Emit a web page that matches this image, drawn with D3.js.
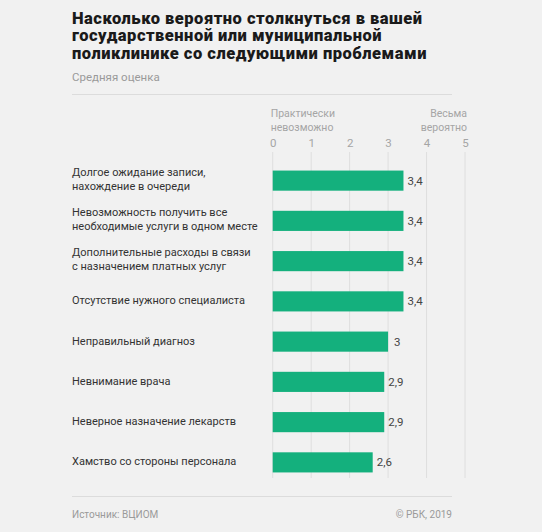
<!DOCTYPE html>
<html><head><meta charset="utf-8">
<script src="https://cdn.jsdelivr.net/npm/d3@7"></script>
<style>
html,body{margin:0;padding:0;background:#f1f1f1;}
svg{display:block;font-family:Roboto,"Noto Sans",sans-serif;}
</style></head>
<body><svg id="c" width="542" height="532"></svg>
<script>
const categories = [
  ["Долгое ожидание записи,", "нахождение в очереди"],
  ["Невозможность получить все", "необходимые услуги в одном месте"],
  ["Дополнительные расходы в связи", "с назначением платных услуг"],
  ["Отсутствие нужного специалиста"],
  ["Неправильный диагноз"],
  ["Невнимание врача"],
  ["Неверное назначение лекарств"],
  ["Хамство со стороны персонала"]
];
const values = [3.4, 3.4, 3.4, 3.4, 3.0, 2.9, 2.9, 2.6];
const valueLabels = ["3,4", "3,4", "3,4", "3,4", "3", "2,9", "2,9", "2,6"];
const ticks = [0, 1, 2, 3, 4, 5];
const titleLines = ["Насколько вероятно столкнуться в вашей", "государственной или муниципальной", "поликлинике со следующими проблемами"];
const subtitle = "Средняя оценка";
const lowLabel = ["Практически", "невозможно"];
const highLabel = ["Весьма", "вероятно"];
const source = "Источник: ВЦИОМ";
const credit = "© РБК, 2019";

const svg = d3.select("#c");
const left = 72, right = 452;

svg.append("g").selectAll("text").data(titleLines).join("text")
  .attr("x", left).attr("y", (d,i) => 23.5 + i*17.5)
  .attr("font-size", 16.5).attr("font-weight", 900).attr("fill", "#1a1a1a")
  .attr("letter-spacing", "0.5")
  .text(d => d);

svg.append("text").attr("x", left).attr("y", 80.5).attr("font-size", 11.5)
  .attr("fill", "#9a9a9a").text(subtitle);

svg.append("line").attr("x1", left).attr("x2", right).attr("y1", 94.5).attr("y2", 94.5)
  .attr("stroke", "#dcdcdc").attr("stroke-width", 1);

const x = d3.scaleLinear().domain([0, 5]).range([272.7, 465]);
const y = d3.scaleBand().domain(d3.range(values.length)).range([160.5, 482.5]).paddingInner(0.5).paddingOuter(0.25);

// gridlines
svg.append("g").selectAll("line").data(ticks).join("line")
  .attr("x1", d => x(d)).attr("x2", d => x(d)).attr("y1", 152).attr("y2", 478)
  .attr("stroke", "#dedede").attr("stroke-width", 1);

// axis
const axis = svg.append("g").attr("transform", "translate(0,147)")
  .call(d3.axisTop(x).tickValues(ticks).tickSize(0).tickPadding(0).tickFormat(d3.format("d")));
axis.select(".domain").remove();
axis.selectAll("text").attr("font-size", 11.5).attr("fill", "#a5a5a5")
  .attr("font-family", "Roboto, 'Noto Sans', sans-serif");

svg.append("g").selectAll("text").data(lowLabel).join("text")
  .attr("x", x(0) - 2).attr("y", (d,i) => 117 + i*14).attr("font-size", 10.5)
  .attr("fill", "#a5a5a5").text(d => d);
svg.append("g").selectAll("text").data(highLabel).join("text")
  .attr("x", x(5) + 2).attr("y", (d,i) => 117 + i*14).attr("font-size", 10.5)
  .attr("text-anchor", "end").attr("fill", "#a5a5a5").text(d => d);

// bars
svg.append("g").selectAll("rect").data(values).join("rect")
  .attr("x", x(0)).attr("y", (d,i) => y(i)).attr("width", d => x(d) - x(0))
  .attr("height", y.bandwidth()).attr("fill", "#14b07d");

svg.append("g").selectAll("text").data(values).join("text")
  .attr("x", d => x(d) + (d === 3 ? 6 : 4)).attr("y", (d,i) => y(i) + y.bandwidth()/2 + 4)
  .attr("font-size", 11.5).attr("fill", "#444").text((d,i) => valueLabels[i]);

// category labels
const lab = svg.append("g").selectAll("text").data(categories).join("text")
  .attr("font-size", 11).attr("fill", "#333");
lab.each(function(lines, i) {
  const cy = y(i) + y.bandwidth()/2;
  const n = lines.length;
  d3.select(this).selectAll("tspan").data(lines).join("tspan")
    .attr("x", left).attr("y", (d,j) => cy + 4 + (j - (n-1)/2) * 14 - (n>1 ? 2 : 1))
    .text(d => d);
});

svg.append("line").attr("x1", left).attr("x2", right).attr("y1", 496.5).attr("y2", 496.5)
  .attr("stroke", "#dcdcdc").attr("stroke-width", 1);

svg.append("text").attr("x", left).attr("y", 518).attr("font-size", 10)
  .attr("fill", "#9a9a9a").text(source);
svg.append("text").attr("x", right).attr("y", 518).attr("font-size", 10)
  .attr("text-anchor", "end").attr("fill", "#9a9a9a").text(credit);
</script></body></html>
